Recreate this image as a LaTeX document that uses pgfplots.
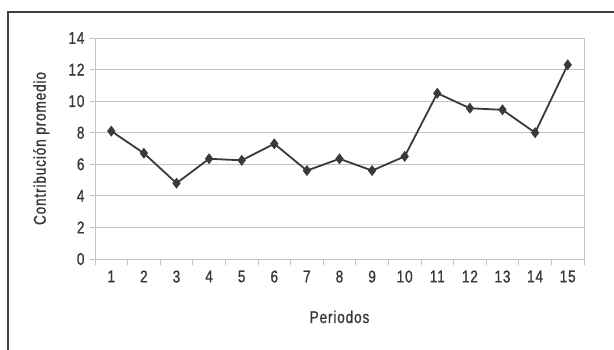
\documentclass[border=0pt]{standalone}
\usepackage{fontspec}
\setmainfont{Liberation Sans}[FakeStretch=0.8, LetterSpace=5, FakeBold=1]
\usepackage{pgfplots}
\pgfplotsset{compat=1.18}
\definecolor{txt}{HTML}{383838}
\definecolor{ln}{HTML}{3A3A3A}
\definecolor{grd}{HTML}{C4C4C4}
\begin{document}
\begin{tikzpicture}[x=1pt,y=1pt]
\useasboundingbox (0,0) rectangle (614,349);
\fill[white] (0,0) rectangle (614,349);
\draw[line width=1.3pt, color=black!75] (8,-20) -- (8,337) -- (640,337);
\begin{axis}[
  at={(95pt,90pt)}, anchor=south west,
  scale only axis, width=489pt, height=221pt,
  xmin=0.5, xmax=15.5, ymin=0, ymax=14,
  xtick={1,...,15},
  minor xtick={0.5,1.5,...,15.5},
  ytick={0,2,...,14},
  xtick pos=bottom, ytick pos=left,
  ymajorgrids, grid style={grd, line width=0.9pt},
  axis line style={draw=grd, line width=0.9pt},
  tick align=outside,
  major tick length=5pt, minor tick length=6pt,
  xtick style={draw=none},
  minor x tick style={draw=grd, line width=0.9pt},
  ytick style={draw=grd, line width=0.9pt},
  x axis line style={draw=black!45},
  tick label style={font=\fontsize{17}{18}\selectfont, text=txt},
  /pgf/number format/assume math mode=true,
  xticklabel style={yshift=-3pt},
  yticklabel style={xshift=-2pt},
  xlabel={Periodos},
  ylabel={Contribución promedio},
  label style={font=\fontsize{17}{18}\selectfont, text=txt},
  xlabel style={at={(axis description cs:0.5,-0.262)}, anchor=center},
  ylabel style={at={(axis description cs:-0.110,0.5)}, anchor=center},
  clip=false,
]
\addplot[color=ln, line width=1.8pt, mark=diamond*, mark size=5pt,
  mark options={fill=ln, draw=ln, line width=0.6pt}]
coordinates {
(1,8.1) (2,6.7) (3,4.8) (4,6.35) (5,6.25) (6,7.3) (7,5.6) (8,6.35)
(9,5.6) (10,6.5) (11,10.5) (12,9.55) (13,9.45) (14,8.0) (15,12.3)
};
\end{axis}
\end{tikzpicture}
\end{document}
